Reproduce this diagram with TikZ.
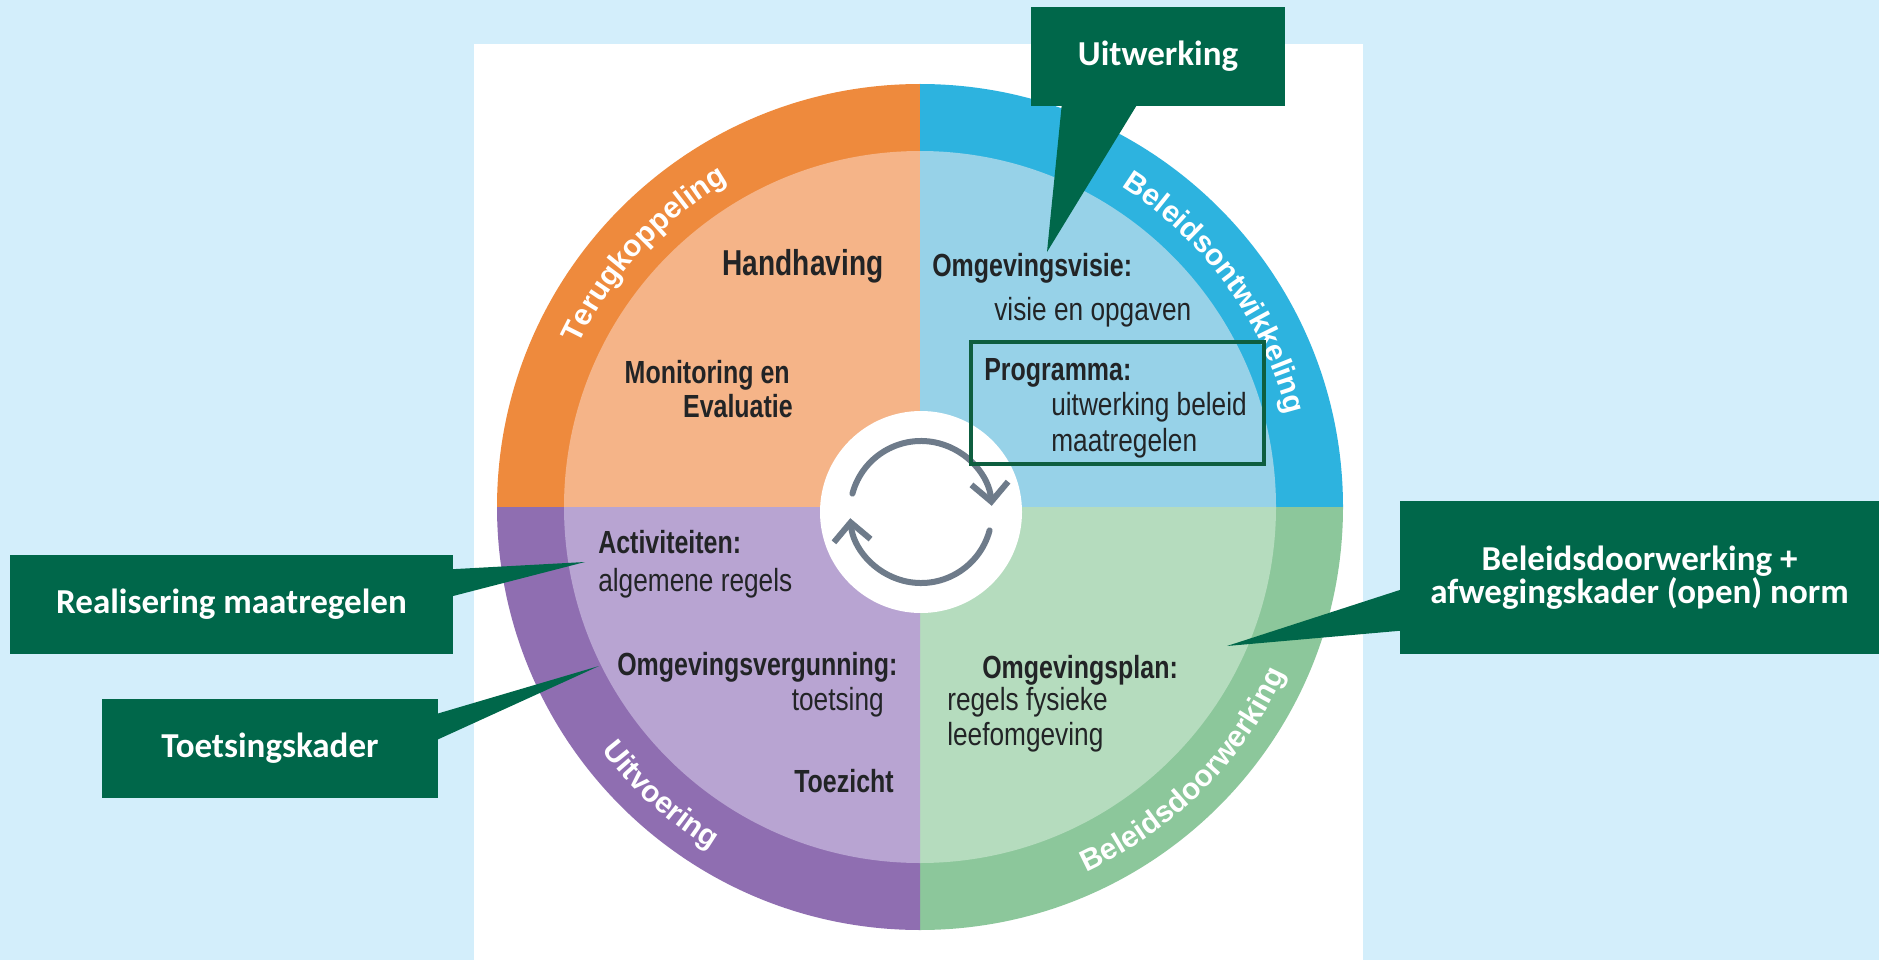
\documentclass[tikz,border=0pt]{standalone}
\usepackage{fontspec}
\usepackage{tikz}
\usetikzlibrary{calc,arrows.meta,decorations.text,positioning}
\newfontfamily\wheelfam[FakeStretch=0.82]{Liberation Sans}
\newfontfamily\wheelbold[FakeStretch=0.78]{Liberation Sans}
\newfontfamily\ringfam{Liberation Sans}
\newfontfamily\callfam{Carlito}
\newcommand{\ringfont}{\ringfam\bfseries\fontsize{30}{30}\selectfont}

\definecolor{bgblue}{HTML}{D3EEFB}
\definecolor{orangeout}{HTML}{EE8A3D}
\definecolor{orangein}{HTML}{F5B488}
\definecolor{blueout}{HTML}{2DB3DF}
\definecolor{bluein}{HTML}{97D2E8}
\definecolor{greenout}{HTML}{8CC79B}
\definecolor{greenin}{HTML}{B5DCBE}
\definecolor{purpleout}{HTML}{8F6EB1}
\definecolor{purplein}{HTML}{B8A4D2}
\definecolor{callgreen}{HTML}{00674A}
\definecolor{boxgreen}{HTML}{0E5E3F}
\definecolor{wheeltext}{HTML}{222426}
\definecolor{turngray}{HTML}{6E7B8A}

\begin{document}
\begin{tikzpicture}[x=1pt,y=1pt,semithick,
                    >={Straight Barb[angle=90:26pt]}]
  \tikzstyle{calloutbox}=[rectangle,fill=callgreen,text=white,inner sep=0pt,align=center,
                          font=\callfam\bfseries\fontsize{35}{29}\selectfont]
  \tikzstyle{calltail}=[fill=callgreen]
  \tikzstyle{headtxt}=[inner sep=0pt,text=wheeltext,font=\wheelbold\bfseries\fontsize{32}{32}\selectfont]
  \tikzstyle{bodytxt}=[inner sep=0pt,text=wheeltext,font=\wheelfam\fontsize{32}{32}\selectfont]
  \tikzstyle{ringtext}=[decorate,decoration={text along path,text align=center,text color=white}]
  \tikzstyle{cyclearrow}=[->,line width=6pt,draw=turngray,line cap=round]

  \fill[bgblue] (0,0) rectangle (1879,-960);
  \useasboundingbox (0,0) rectangle (1879,-960);
  \fill[white] (474,-44) rectangle (1363,-960);

  \coordinate (C) at (920,-507);
  \coordinate (M) at (921,-512);

  % ring
  \fill[orangeout] (C) -- ($(C)+(90:423)$) arc[start angle=90,end angle=180,radius=423] -- cycle;
  \fill[blueout] (C) -- ($(C)+(0:423)$) arc[start angle=0,end angle=90,radius=423] -- cycle;
  \fill[greenout] (C) -- ($(C)+(-90:423)$) arc[start angle=-90,end angle=0,radius=423] -- cycle;
  \fill[purpleout] (C) -- ($(C)+(180:423)$) arc[start angle=180,end angle=270,radius=423] -- cycle;
  \fill[orangein] (C) -- ($(C)+(90:356)$) arc[start angle=90,end angle=180,radius=356] -- cycle;
  \fill[bluein] (C) -- ($(C)+(0:356)$) arc[start angle=0,end angle=90,radius=356] -- cycle;
  \fill[greenin] (C) -- ($(C)+(-90:356)$) arc[start angle=-90,end angle=0,radius=356] -- cycle;
  \fill[purplein] (C) -- ($(C)+(180:356)$) arc[start angle=180,end angle=270,radius=356] -- cycle;
  \fill[white] (M) circle[radius=101];

  \path[ringtext,decoration={text={|\ringfont|Terugkoppeling}}]
    ($(C)+(185:378)$) arc[start angle=185,end angle=90,radius=378];
  \path[ringtext,decoration={text={|\ringfont|Beleidsontwikkeling}}]
    ($(C)+(80:378)$) arc[start angle=80,end angle=-8,radius=378];
  \path[ringtext,decoration={text={|\ringfont|Beleidsdoorwerking}}]
    ($(C)+(-90:401)$) arc[start angle=-90,end angle=0,radius=401];
  \path[ringtext,decoration={text={|\ringfont|Uitvoering}}]
    ($(C)+(183:401)$) arc[start angle=183,end angle=273,radius=401];

  \draw[cyclearrow] ($(M)+(165:71)$) arc[start angle=165,end angle=5,radius=71];
  \draw[cyclearrow] ($(M)+(-15:71)$) arc[start angle=-15,end angle=-175,radius=71];

  \node[headtxt,anchor=base,font=\wheelbold\bfseries\fontsize{36}{36}\selectfont] (handh) at (803,-275) {Handhaving};
  \node[headtxt,anchor=base west] (visie) at (932,-276) {Omgevingsvisie:};
  \node[bodytxt,anchor=base west] (visie2) at (994,-320) {visie en opgaven};
  \node[headtxt,anchor=base east] (moni) at (790,-383) {Monitoring en};
  \node[headtxt,anchor=base east] (evalu) at (793,-417) {Evaluatie};
  \node[headtxt,anchor=base west] (progr) at (984,-380) {Programma:};
  \node[bodytxt,anchor=base west] (progr2) at (1051,-415) {uitwerking beleid};
  \node[bodytxt,anchor=base west] (progr3) at (1051,-451) {maatregelen};
  \node[headtxt,anchor=base west] (activ) at (598,-553) {Activiteiten:};
  \node[bodytxt,anchor=base west] (activ2) at (598,-591) {algemene regels};
  \node[headtxt,anchor=base west] (vergun) at (617,-675) {Omgevingsvergunning:};
  \node[bodytxt,anchor=base east] (vergun2) at (884,-710) {toetsing};
  \node[headtxt,anchor=base] (toez) at (844,-792) {Toezicht};
  \node[headtxt,anchor=base west] (oplan) at (982,-678) {Omgevingsplan:};
  \node[bodytxt,anchor=base west] (oplan2) at (947,-710) {regels fysieke};
  \node[bodytxt,anchor=base west] (oplan3) at (947,-745) {leefomgeving};

  \node[draw=boxgreen,line width=4pt,minimum width=293pt,minimum height=122pt,inner sep=0pt] (progbox) at (1117.5,-403) {};

  \node[calloutbox,minimum width=254pt,minimum height=99pt] (uitw) at (1158,-56.5) {Uitwerking};
  \node[calloutbox,minimum width=443pt,minimum height=99pt] (realis) at (231.5,-604) {Realisering maatregelen};
  \node[calloutbox,minimum width=336pt,minimum height=99pt] (toets) at (270,-748.5) {Toetsingskader};
  \node[calloutbox,minimum width=479pt,minimum height=153pt] (doorw) at (1639.5,-577.5) {Beleidsdoorwerking +\\afwegingskader (open) norm};

  \coordinate (uitwtip) at (1047,-252);
  \coordinate (realistip) at (585,-562);
  \coordinate (toetstip) at (599,-666);
  \coordinate (doorwtip) at (1227,-646);

  \fill[calltail] ([shift={(31,1)}]uitw.south west) -- (uitwtip) -- ([shift={(106,1)}]uitw.south west) -- cycle;
  \fill[calltail] ([shift={(-1,-15)}]realis.north east) -- (realistip) -- ([shift={(-1,-42)}]realis.north east) -- cycle;
  \fill[calltail] ([shift={(-1,-15)}]toets.north east) -- (toetstip) -- ([shift={(-1,-41)}]toets.north east) -- cycle;
  \fill[calltail] ([shift={(1,-89)}]doorw.north west) -- (doorwtip) -- ([shift={(1,-130)}]doorw.north west) -- cycle;
\end{tikzpicture}
\end{document}
